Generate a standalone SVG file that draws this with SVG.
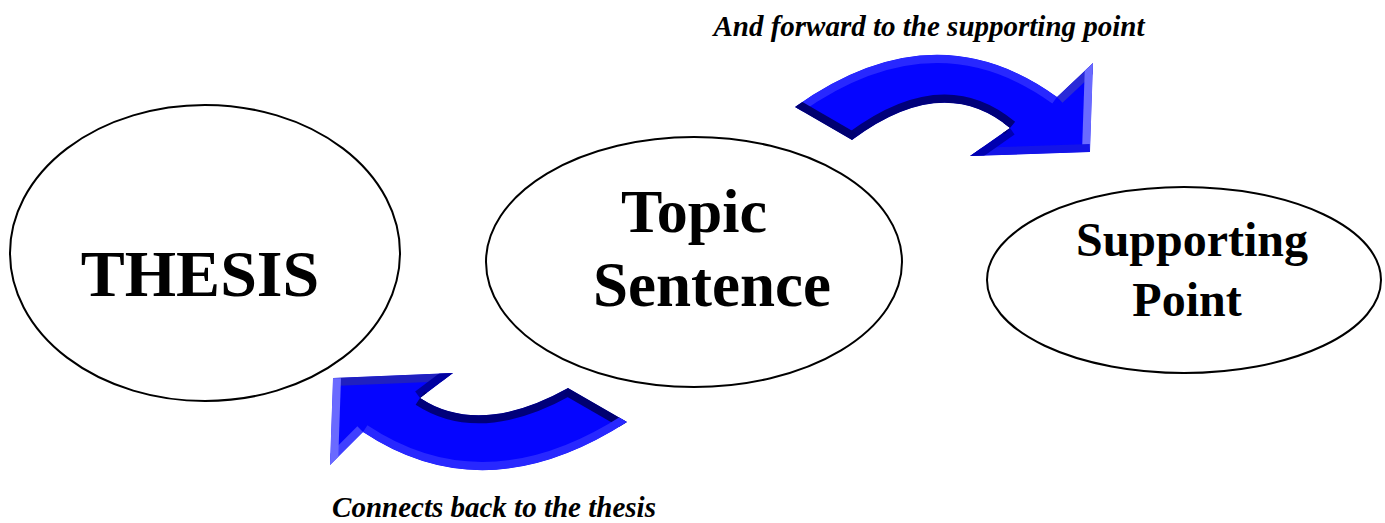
<svg xmlns="http://www.w3.org/2000/svg" width="1385" height="523" viewBox="0 0 1385 523">
<style>
.node{fill:#fff;stroke:#000;stroke-width:2}
.big{font-family:"Liberation Serif","Times New Roman",serif;font-weight:bold;fill:#000;text-anchor:middle}
.cap{font-family:"Liberation Serif","Times New Roman",serif;font-weight:bold;font-style:italic;fill:#000;text-anchor:middle;font-size:29px}
.face{fill:#0505ff}
.bev{fill:none;stroke-width:16}
</style>
<defs>
<clipPath id="cTop"><path d="M795,107 Q934,8 1057,97 L1093,63 L1090,152 L970,156 L1010,128 Q943,72 852,140 Z"/></clipPath>
<clipPath id="cBot"><path d="M333,378 L453,373 L420,398 Q480,437 568,388 L627,422 Q485,513 363,432 L330,465 Z"/></clipPath>
</defs>
<rect width="1385" height="523" fill="#fff"/>
<g id="thesis">
<ellipse class="node" cx="205" cy="253" rx="195" ry="148"/>
<text class="big" x="200" y="296" font-size="66">THESIS</text>
</g>
<g id="topic">
<ellipse class="node" cx="694" cy="262" rx="208" ry="125"/>
<text class="big" x="694" y="232" font-size="62">Topic</text>
<text class="big" x="712" y="306" font-size="63">Sentence</text>
</g>
<g id="supporting">
<ellipse class="node" cx="1184" cy="280" rx="197" ry="93"/>
<text class="big" x="1192" y="256" font-size="48">Supporting</text>
<text class="big" x="1187" y="316" font-size="48">Point</text>
</g>
<g id="connectors">
<g id="arrow-forward" clip-path="url(#cTop)">
<path class="face" d="M795,107 Q934,8 1057,97 L1093,63 L1090,152 L970,156 L1010,128 Q943,72 852,140 Z"/>
<path class="bev" stroke="#2828ff" stroke-width="8" d="M795,107 Q934,8 1057,97"/>
<path class="bev" stroke="#2a2ad8" d="M1057,97 L1093,63"/>
<path class="bev" stroke="#6a6aff" d="M1093,63 L1090,152"/>
<path class="bev" stroke="#1414e8" d="M1090,152 L970,156"/>
<path class="bev" stroke="#0000b0" d="M970,156 L1010,128"/>
<path class="bev" stroke="#00007a" d="M1010,128 Q943,72 852,140"/>
<path class="bev" stroke="#000070" d="M852,140 L795,107"/>
</g>
<g id="arrow-back" clip-path="url(#cBot)">
<path class="face" d="M333,378 L453,373 L420,398 Q480,437 568,388 L627,422 Q485,513 363,432 L330,465 Z"/>
<path class="bev" stroke="#2020c0" d="M333,378 L453,373"/>
<path class="bev" stroke="#0000a0" d="M453,373 L420,398"/>
<path class="bev" stroke="#00007a" d="M420,398 Q480,437 568,388"/>
<path class="bev" stroke="#000070" d="M568,388 L627,422"/>
<path class="bev" stroke="#2828ff" stroke-width="8" d="M627,422 Q485,513 363,432"/>
<path class="bev" stroke="#4040ff" d="M363,432 L330,465"/>
<path class="bev" stroke="#6a6aff" d="M330,465 L333,378"/>
</g>
</g>
<text class="cap" x="929" y="36">And forward to the supporting point</text>
<text class="cap" x="494" y="517">Connects back to the thesis</text>
</svg>
